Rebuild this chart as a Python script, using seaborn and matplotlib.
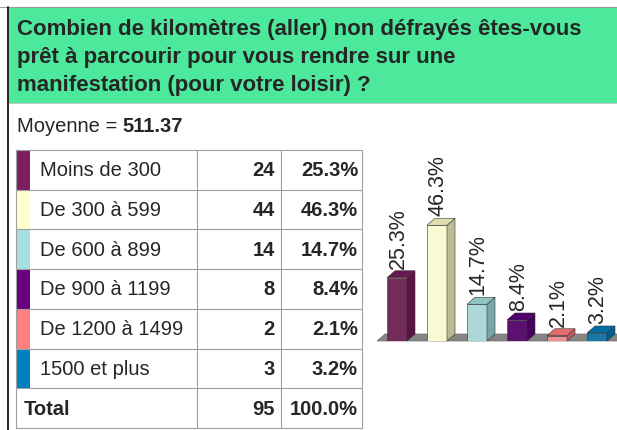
import matplotlib
matplotlib.use("Agg")
import matplotlib.pyplot as plt
import seaborn as sns
from matplotlib.patches import Polygon, Rectangle

# data
categories = ["Moins de 300", "De 300 à 599", "De 600 à 899",
              "De 900 à 1199", "De 1200 à 1499", "1500 et plus"]
counts = [24, 44, 14, 8, 2, 3]
percents = [25.3, 46.3, 14.7, 8.4, 2.1, 3.2]
total_count = 95
total_pct = "100.0%"
mean_value = "511.37"

title_lines = ["Combien de kilomètres (aller) non défrayés êtes-vous",
               "prêt à parcourir pour vous rendre sur une",
               "manifestation (pour votre loisir) ?"]

front_colors = ["#7f1f5f", "#ffffcc", "#a6dfe0", "#660080", "#ff8080", "#0080c0"]
side_colors = ["#5a1343", "#bcbc94", "#78a6a6", "#44005a", "#c45c5c", "#005c8c"]
top_colors = ["#6a1850", "#dedeb0", "#8fc3c4", "#520070", "#e06c6c", "#006ca4"]

sns.set_style("white")
plt.rcParams["font.family"] = ["Liberation Sans", "DejaVu Sans"]

W, H = 617, 431
fig = plt.figure(figsize=(W / 100, H / 100), dpi=100)

# overlay axes in pixel coordinates for the header and table
ov = fig.add_axes([0, 0, 1, 1])
ov.set_xlim(0, W)
ov.set_ylim(H, 0)
ov.axis("off")

ov.plot([0, W], [8, 8], color="#999999", lw=0.8)
ov.plot([8, 8], [8, H], color="black", lw=1.2)
ov.add_patch(Rectangle((9, 9), W - 9, 95, facecolor="#4ce89c", edgecolor="none"))
for i, line in enumerate(title_lines):
    ov.text(17, 30 + i * 27.5, line, fontsize=16, fontweight="bold",
            va="center", ha="left")
ov.plot([9, W], [104, 104], color="#bbbbbb", lw=0.6)

t_mean = ov.text(17, 127, "Moyenne = ", fontsize=14.5, va="center", ha="left")
renderer = fig.canvas.get_renderer()
bb = t_mean.get_window_extent(renderer=renderer)
ov.text(17 + bb.width, 127, mean_value, fontsize=14.5, fontweight="bold",
        va="center", ha="left")

# table
top, row_h = 151, 39.7
x0, x_sw, x1, x2, x3 = 16, 30, 197, 281, 362
n_rows = len(categories) + 1
grid = "#a0a0a0"
fs = 14.5
for r in range(n_rows + 1):
    y = top + r * row_h
    ov.plot([x0, x3], [y, y], color=grid, lw=0.8)
for x in [x0, x1, x2, x3]:
    ov.plot([x, x], [top, top + n_rows * row_h], color=grid, lw=0.8)
for r, (cat, c, p, col) in enumerate(zip(categories, counts, percents, front_colors)):
    yc = top + (r + 0.5) * row_h
    ov.add_patch(Rectangle((x0, top + r * row_h), x_sw - x0, row_h,
                           facecolor=col, edgecolor="none"))
    ov.text(40, yc, cat, fontsize=fs, va="center", ha="left")
    ov.text(x2 - 6, yc, str(c), fontsize=fs, fontweight="bold", va="center", ha="right")
    ov.text(x3 - 4, yc, f"{p:.1f}%", fontsize=fs, fontweight="bold", va="center", ha="right")
yc = top + (n_rows - 0.5) * row_h
ov.text(24, yc, "Total", fontsize=fs, fontweight="bold", va="center", ha="left")
ov.text(x2 - 6, yc, str(total_count), fontsize=fs, fontweight="bold", va="center", ha="right")
ov.text(x3 - 4, yc, total_pct, fontsize=fs, fontweight="bold", va="center", ha="right")

# 3D-looking bar chart
base_y, top_y, left_x = 342, 140, 377
ax = fig.add_axes([left_x / W, (H - base_y) / H, (W - left_x) / W, (base_y - top_y) / H])
ax.patch.set_alpha(0)
sns.barplot(x=categories, y=percents, hue=categories, palette=front_colors,
            legend=False, width=0.5, edgecolor="#333333", linewidth=0.4,
            ax=ax, zorder=3)
ax.set_xlim(-0.5, 5.5)
ax.set_ylim(0, (base_y - top_y) / 2.5)
ax.axis("off")

dx, dy = 0.2, 2.8
floor = Polygon([(-0.5, 0), (6.0, 0), (6.0 + dx, dy), (-0.5 + dx, dy)],
                closed=True, facecolor="#858585", edgecolor="#6e6e6e",
                lw=0.5, zorder=1, clip_on=False)
ax.add_patch(floor)

for bar, sc, tc, p in zip(ax.patches, side_colors, top_colors, percents):
    bx, bw, bh = bar.get_x(), bar.get_width(), bar.get_height()
    side = Polygon([(bx + bw, 0), (bx + bw + dx, dy), (bx + bw + dx, bh + dy), (bx + bw, bh)],
                   closed=True, facecolor=sc, edgecolor="#333333", lw=0.4, zorder=3)
    topf = Polygon([(bx, bh), (bx + dx, bh + dy), (bx + bw + dx, bh + dy), (bx + bw, bh)],
                   closed=True, facecolor=tc, edgecolor="#333333", lw=0.4, zorder=3)
    ax.add_patch(side)
    ax.add_patch(topf)
    ax.text(bx + bw / 2 + 0.03, bh + dy + 1.2, f"{p:.1f}%", rotation=90, fontsize=15.5,
            ha="center", va="bottom", zorder=4)

fig.savefig("out.png", dpi=100)
